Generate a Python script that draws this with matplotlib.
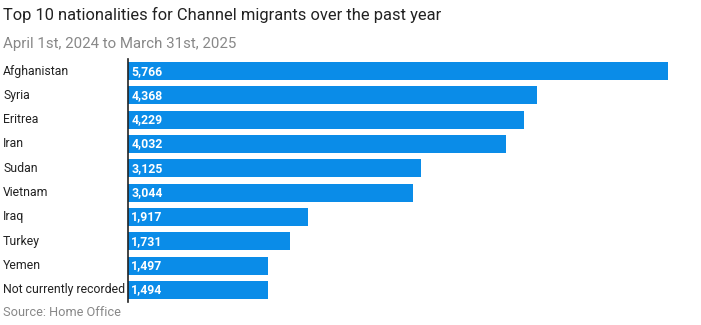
import matplotlib.pyplot as plt

countries = ["Afghanistan", "Syria", "Eritrea", "Iran", "Sudan", "Vietnam",
             "Iraq", "Turkey", "Yemen", "Not currently recorded"]
migrants = [5766, 4368, 4229, 4032, 3125, 3044, 1917, 1731, 1497, 1494]

plt.rcParams["font.family"] = ["Roboto", "DejaVu Sans"]

W, H = 701, 325
fig = plt.figure(figsize=(W / 100, H / 100), dpi=100)
ax = fig.add_axes([128 / W, 1 - 302 / H, (690 - 128) / W, (302 - 59) / H])

ypos = list(range(len(countries)))
ax.barh(ypos, migrants, height=0.74, color="#0a8ce8")
ax.set_xlim(0, 6000)
ax.set_ylim(len(countries) - 0.5, -0.5)

for y, name, val in zip(ypos, countries, migrants):
    fig.text(3 / W, 1 - (71 + y * 24.3) / H, name, ha="left", va="center",
             fontsize=8.8, fontstretch="condensed", color="#222222")
    ax.text(35, y, f"{val:,}", ha="left", va="center", fontsize=8.8,
            fontstretch="condensed", fontweight="bold", color="white")

for s in ["top", "right", "bottom"]:
    ax.spines[s].set_visible(False)
ax.spines["left"].set_color("#222222")
ax.spines["left"].set_linewidth(1.2)
ax.set_xticks([])
ax.set_yticks([])

fig.text(3 / W, 1 - 15 / H, "Top 10 nationalities for Channel migrants over the past year",
         ha="left", va="center", fontsize=11.9, color="#222222")
fig.text(3 / W, 1 - 44 / H, "April 1st, 2024 to March 31st, 2025",
         ha="left", va="center", fontsize=10.8, color="#888888")
fig.text(3 / W, 1 - 313 / H, "Source: Home Office",
         ha="left", va="center", fontsize=9.2, color="#888888")

fig.savefig("out.png", dpi=100)
